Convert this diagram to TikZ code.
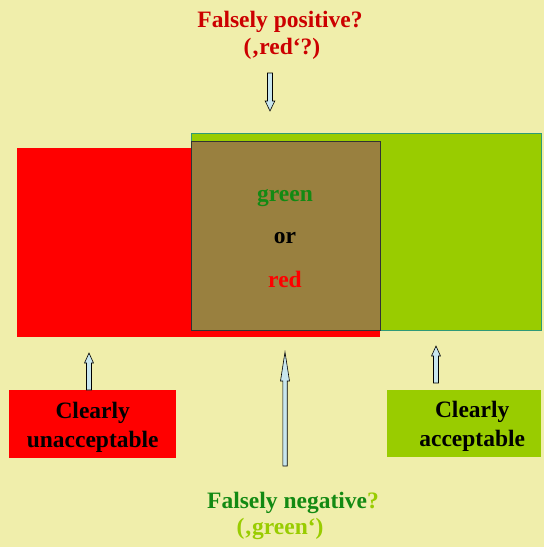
\documentclass[tikz,border=0pt]{standalone}
\usepackage{fontspec}
\setmainfont{Liberation Serif}
\usetikzlibrary{calc}
\definecolor{bgyellow}{HTML}{F0EEAB}
\definecolor{boxred}{HTML}{FF0000}
\definecolor{boxgreen}{HTML}{99CC00}
\definecolor{edgeteal}{HTML}{2E9A78}
\definecolor{mixbrown}{HTML}{99803F}
\definecolor{titlered}{HTML}{CC0000}
\definecolor{darkgreen}{HTML}{138A13}
\definecolor{arrowblue}{HTML}{C8E6EE}
\newcommand{\blockarrow}[5]{%
  \filldraw[barrow] let \p1=(#1), \p2=(#2), \n1={sign(\y2-\y1)} in
    ({\x1-#3},\y1) -- ({\x1-#3},{\y2-\n1*#5}) -- ({\x1-#4},{\y2-\n1*#5}) -- (\x2,\y2)
    -- ({\x1+#4},{\y2-\n1*#5}) -- ({\x1+#3},{\y2-\n1*#5}) -- ({\x1+#3},\y1) -- cycle;}
\begin{document}
\begin{tikzpicture}[x=1pt,y=-1pt,
  txt/.style={font=\fontsize{23.5}{28}\selectfont\bfseries, inner sep=0pt, anchor=base},
  plainbox/.style={inner sep=0pt, anchor=north west},
  labelbox/.style={inner sep=0pt, font=\fontsize{23.5}{29}\selectfont\bfseries, align=center, text=black},
  barrow/.style={fill=arrowblue, draw=black, line width=0.6pt, line join=miter}]
\fill[bgyellow] (0,0) rectangle (544,547);
\useasboundingbox (0,0) rectangle (544,547);
% rectangles
\node[plainbox, fill=boxred, minimum width=363pt, minimum height=189pt] (redrect) at (17,148) {};
\node[plainbox, fill=boxgreen, draw=edgeteal, line width=0.8pt, minimum width=350pt, minimum height=197pt] (greenrect) at (191,133) {};
\node[plainbox, fill=mixbrown, draw=black!80, line width=0.9pt, minimum width=189pt, minimum height=189pt] (mix) at (191,141) {};
% inner text
\node[txt, text=darkgreen] (tgreen) at (285,201) {green};
\node[txt, text=black] (tor) at (285,243) {or};
\node[txt, text=boxred] (tred) at (285,287) {red};
% top title
\node[txt, text=titlered] (fp1) at (280,27) {Falsely positive?};
\node[txt, text=titlered] (fp2) at (282,54) {(‚red‘?)};
% bottom title
\node[txt] (fn1) at (293,508) {\textcolor{darkgreen}{Falsely negative}\textcolor{boxgreen}{?}};
\node[txt, text=boxgreen] (fn2) at (280,534) {(‚green‘)};
% boxes
\node[plainbox, fill=boxred, minimum width=167pt, minimum height=68pt] (unacc) at (9,390) {};
\node[labelbox, anchor=center, yshift=-3pt] at (unacc.center) (unacctxt) {Clearly\\unacceptable};
\node[plainbox, fill=boxgreen, minimum width=154pt, minimum height=67pt] (acc) at (387,390) {};
\node[labelbox, anchor=center, yshift=-3pt, xshift=8pt] at (acc.center) (acctxt) {Clearly\\acceptable};
% arrow end points
\coordinate (a1s) at (270,73);  \coordinate (a1e) at (270,111);
\coordinate (a2s) at (285,466); \coordinate (a2e) at (285,352);
\coordinate (a3s) at (89,390); \coordinate (a3e) at (89,353);
\coordinate (a4s) at (436,383); \coordinate (a4e) at (436,346);
\blockarrow{a1s}{a1e}{2.5pt}{4.8pt}{10pt}
\blockarrow{a2s}{a2e}{2.2pt}{4.5pt}{29pt}
\blockarrow{a3s}{a3e}{2.5pt}{4.5pt}{10pt}
\blockarrow{a4s}{a4e}{2.5pt}{4.5pt}{10pt}
\end{tikzpicture}
\end{document}
